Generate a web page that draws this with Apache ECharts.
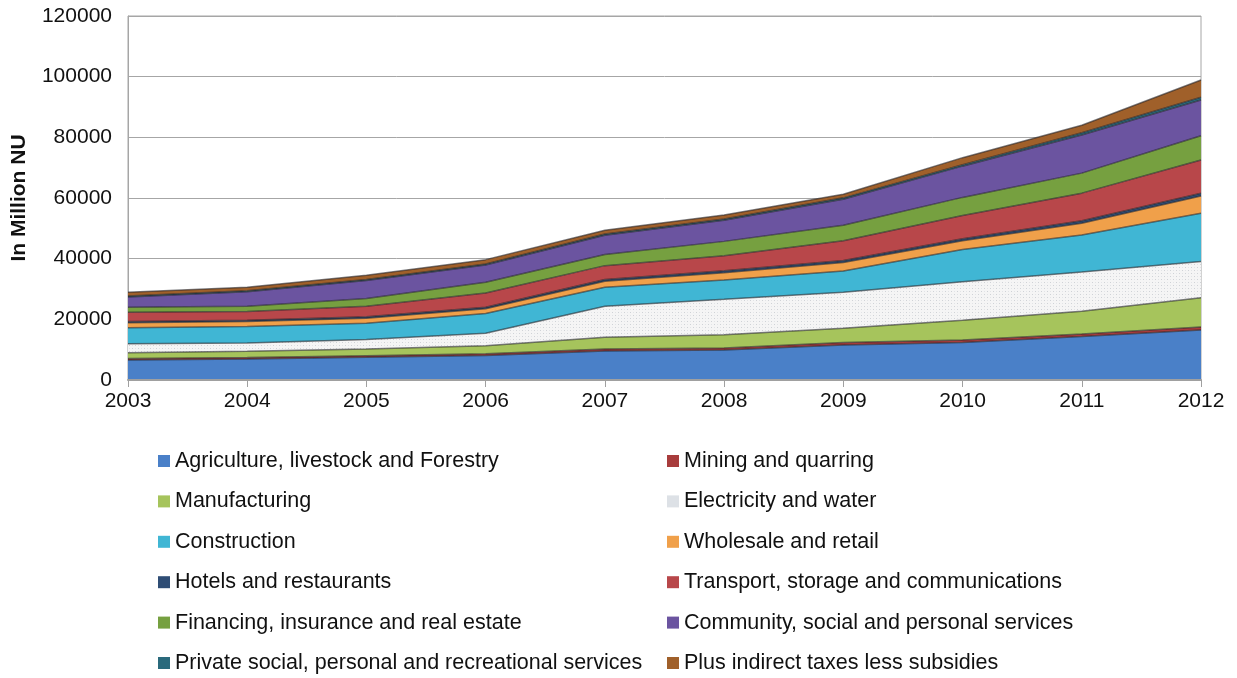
<!DOCTYPE html>
<html>
<head>
<meta charset="utf-8">
<title>GDP by sector, 2003-2012</title>
<script src="https://cdn.jsdelivr.net/npm/echarts@6/dist/echarts.min.js"></script>
<style>
  html, body { margin: 0; padding: 0; background: #ffffff; }
  #chart { width: 1237px; height: 678px; }
</style>
</head>
<body>
<div id="chart"></div>
<script>
// Years on the category axis
const years = ['2003', '2004', '2005', '2006', '2007', '2008', '2009', '2010', '2011', '2012'];

// Sector values, in million Nu
const agriculture   = [6600, 6950, 7500, 8080, 9560, 9890, 11540, 12360, 14340, 16490];
const mining        = [450, 450, 480, 540, 620, 700, 800, 830, 850, 1000];
const manufacturing = [1900, 2100, 2200, 2700, 3900, 4300, 4700, 6500, 7500, 9600];
const electricity   = [3000, 2700, 3200, 4100, 10200, 11700, 11900, 12700, 12900, 12000];
const construction  = [5300, 5400, 5300, 6500, 6300, 6400, 7000, 10600, 12200, 15900];
const wholesale     = [1600, 1650, 1700, 1600, 2000, 2400, 2800, 2900, 3900, 5700];
const hotels        = [450, 450, 460, 480, 560, 600, 690, 700, 800, 850];
const transport     = [3000, 2900, 3460, 4700, 4560, 5010, 6470, 7610, 9110, 10960];
const financing     = [1700, 1700, 2600, 3500, 3700, 4700, 5100, 6000, 6600, 8050];
const community     = [3350, 4800, 5900, 5700, 6300, 7000, 8600, 10300, 12600, 11750];
const privateServ   = [350, 350, 350, 380, 400, 400, 450, 500, 700, 900];
const indirectTaxes = [1200, 1100, 1400, 1400, 1300, 1300, 1200, 2300, 2500, 5700];

// Y axis ticks
const yTicks = [0, 20000, 40000, 60000, 80000, 100000, 120000];

const FONT = '"Liberation Sans", Arial, Helvetica, sans-serif';

// Light dotted texture used for the electricity layer
function dottedPattern() {
  const c = document.createElement('canvas');
  c.width = 6; c.height = 6;
  const g = c.getContext('2d');
  g.fillStyle = '#f5f5f5';
  g.fillRect(0, 0, 6, 6);
  g.fillStyle = '#cfd2d6';
  g.fillRect(0, 0, 1, 1);
  g.fillRect(3, 3, 1, 1);
  g.fillStyle = '#e2e4e7';
  g.fillRect(3, 0, 1, 1);
  g.fillRect(0, 3, 1, 1);
  return c;
}

const sectors = [
  { name: 'Agriculture, livestock and Forestry', data: agriculture, color: '#4a80c8' },
  { name: 'Mining and quarring', data: mining, color: '#a83c3c' },
  { name: 'Manufacturing', data: manufacturing, color: '#a6c45c' },
  { name: 'Electricity and water', data: electricity, color: '#dde1e6', pattern: true },
  { name: 'Construction', data: construction, color: '#40b6d4' },
  { name: 'Wholesale and retail', data: wholesale, color: '#f0a04a' },
  { name: 'Hotels and restaurants', data: hotels, color: '#2f4d75' },
  { name: 'Transport, storage and communications', data: transport, color: '#b8474a' },
  { name: 'Financing, insurance and real estate', data: financing, color: '#76a040' },
  { name: 'Community, social and personal services', data: community, color: '#6b54a0' },
  { name: 'Private social, personal and recreational services', data: privateServ, color: '#2a6a7c' },
  { name: 'Plus indirect taxes less subsidies', data: indirectTaxes, color: '#a0602a' }
];

const pattern = dottedPattern();

const series = sectors.map(s => ({
  name: s.name,
  type: 'line',
  stack: 'gdp',
  data: s.data,
  showSymbol: false,
  symbol: 'none',
  smooth: false,
  itemStyle: { color: s.color },
  lineStyle: { color: 'rgba(35,35,40,0.6)', width: 1.5 },
  areaStyle: { color: s.pattern ? { image: pattern, repeat: 'repeat' } : s.color, opacity: 1 },
  emphasis: { disabled: true }
}));

const leftNames = [0, 2, 4, 6, 8, 10].map(i => sectors[i].name);
const rightNames = [1, 3, 5, 7, 9, 11].map(i => sectors[i].name);

const legendBase = {
  orient: 'vertical',
  top: 450,
  padding: 0,
  itemWidth: 12,
  itemHeight: 12,
  itemGap: 18.4,
  icon: 'rect',
  selectedMode: false,
  itemStyle: { borderWidth: 0 },
  textStyle: { fontSize: 21.5, lineHeight: 21, color: '#111', fontFamily: FONT }
};

const chart = echarts.init(document.getElementById('chart'), null, { renderer: 'canvas' });
chart.setOption({
  animation: false,
  backgroundColor: '#ffffff',
  textStyle: { fontFamily: FONT },
  grid: {
    left: 128, right: 36, top: 16, bottom: 298,
    containLabel: false,
    outerBoundsMode: 'none',
    show: true, borderColor: '#a6a6a6', borderWidth: 1
  },
  legend: [
    Object.assign({}, legendBase, { left: 158, data: leftNames }),
    Object.assign({}, legendBase, { left: 667, data: rightNames })
  ],
  xAxis: {
    type: 'category',
    data: years,
    boundaryGap: false,
    axisLine: { lineStyle: { color: '#a0a0a0', width: 2 } },
    axisTick: { show: true, length: 7, lineStyle: { color: '#a0a0a0', width: 1 } },
    axisLabel: { fontSize: 21, color: '#111', margin: 11, fontFamily: FONT },
    splitLine: { show: false },
    z: 10
  },
  yAxis: {
    type: 'value',
    min: yTicks[0],
    max: yTicks[yTicks.length - 1],
    interval: yTicks[1] - yTicks[0],
    name: 'In Million NU',
    nameLocation: 'middle',
    nameRotate: 90,
    nameGap: 98,
    nameTextStyle: { fontSize: 21, fontWeight: 'bold', color: '#111', fontFamily: FONT },
    axisLine: { show: true, lineStyle: { color: '#a6a6a6', width: 1 } },
    axisTick: { show: false },
    axisLabel: { fontSize: 21, color: '#111', margin: 16, fontFamily: FONT, formatter: v => String(v) },
    splitLine: { show: true, lineStyle: { color: '#a6a6a6', width: 1 } }
  },
  series: series
});
</script>
</body>
</html>
